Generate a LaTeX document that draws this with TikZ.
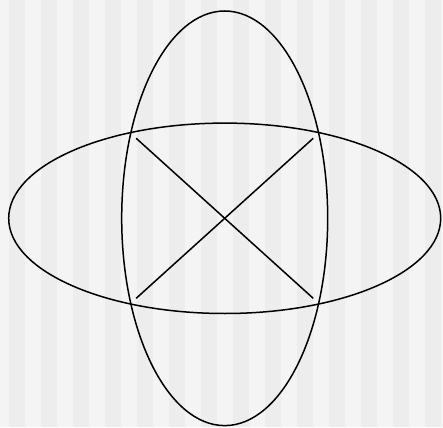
\documentclass[tikz,border=0pt]{standalone}
\begin{document}
\begin{tikzpicture}[x=1pt,y=-1pt,
  stroke/.style={draw=black,line width=1.5pt}]
\definecolor{stripeA}{HTML}{F4F4F4}
\definecolor{stripeB}{HTML}{EDEDED}
\useasboundingbox (0,0) rectangle (443,427);
\fill[stripeA] (0,0) rectangle (443,427);
\foreach \i in {0,...,13} {
  \fill[stripeB] ({9+32*\i},0) rectangle ({min(9+32*\i+16,443)},427);
}
\coordinate (c) at (224.7,218.3);
\draw[stroke] (c) ellipse [x radius=216, y radius=95.2];
\draw[stroke] (c) ellipse [x radius=103, y radius=207.3];
\coordinate (tl) at (136.2,138.3);
\coordinate (br) at (313.2,298.3);
\coordinate (tr) at (313.2,138.3);
\coordinate (bl) at (136.2,298.3);
\draw[stroke] (tl) -- (br);
\draw[stroke] (tr) -- (bl);
\end{tikzpicture}
\end{document}
